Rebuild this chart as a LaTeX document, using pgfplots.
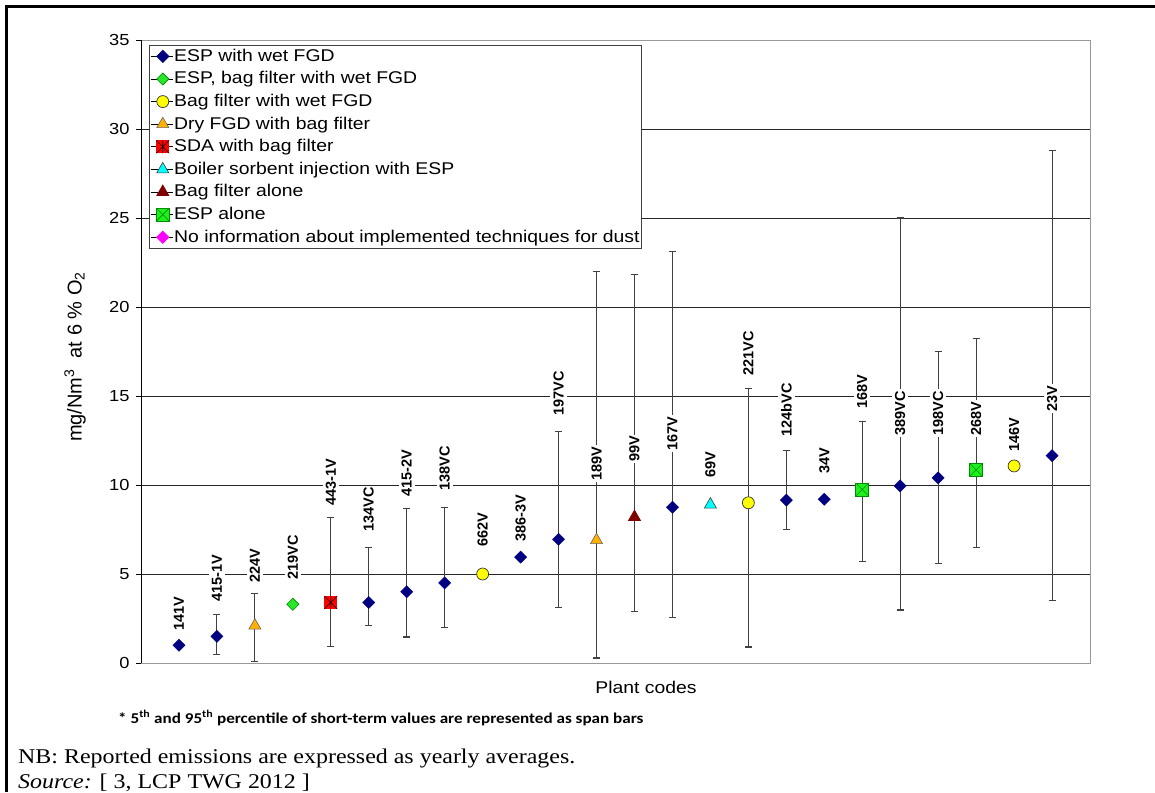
\documentclass[border=0pt]{standalone}
\usepackage{fontspec}
\setmainfont{Liberation Sans}[FakeStretch=1.14]
\newfontfamily\plainsans{Liberation Sans}
\newfontfamily\timesfont{Liberation Serif}[FakeStretch=1.14]
\newfontfamily\calibrifont{Carlito}[FakeStretch=1.14]
\usepackage{pgfplots}
\pgfplotsset{compat=1.18}
\usepackage{pgfplotstable}

\definecolor{navyc}{RGB}{0,0,128}
\definecolor{greenc}{RGB}{40,230,40}
\definecolor{greenedge}{RGB}{0,130,0}
\definecolor{yellowc}{RGB}{255,255,0}
\definecolor{orangec}{RGB}{255,176,0}
\definecolor{redc}{RGB}{255,0,0}
\definecolor{cyanc}{RGB}{0,255,255}
\definecolor{darkredc}{RGB}{128,0,0}
\definecolor{espalone}{RGB}{30,240,30}
\definecolor{magentac}{RGB}{255,0,255}

\pgfdeclareplotmark{sqx}{%
  \pgfpathrectangle{\pgfqpoint{-\pgfplotmarksize}{-\pgfplotmarksize}}{\pgfqpoint{2\pgfplotmarksize}{2\pgfplotmarksize}}%
  \pgfusepathqfillstroke
  \pgfpathmoveto{\pgfqpoint{-\pgfplotmarksize}{-\pgfplotmarksize}}%
  \pgfpathlineto{\pgfqpoint{\pgfplotmarksize}{\pgfplotmarksize}}%
  \pgfpathmoveto{\pgfqpoint{-\pgfplotmarksize}{\pgfplotmarksize}}%
  \pgfpathlineto{\pgfqpoint{\pgfplotmarksize}{-\pgfplotmarksize}}%
  \pgfusepathqstroke
}
\pgfdeclareplotmark{sqstar}{%
  \pgfpathrectangle{\pgfqpoint{-\pgfplotmarksize}{-\pgfplotmarksize}}{\pgfqpoint{2\pgfplotmarksize}{2\pgfplotmarksize}}%
  \pgfusepathqfill
  \pgfsetstrokecolor{black}%
  \pgfpathmoveto{\pgfqpoint{-\pgfplotmarksize}{-\pgfplotmarksize}}%
  \pgfpathlineto{\pgfqpoint{\pgfplotmarksize}{\pgfplotmarksize}}%
  \pgfpathmoveto{\pgfqpoint{-\pgfplotmarksize}{\pgfplotmarksize}}%
  \pgfpathlineto{\pgfqpoint{\pgfplotmarksize}{-\pgfplotmarksize}}%
  \pgfpathmoveto{\pgfqpoint{0pt}{-\pgfplotmarksize}}%
  \pgfpathlineto{\pgfqpoint{0pt}{\pgfplotmarksize}}%
  \pgfusepathqstroke
}

% error bars: x, y, lower, upper (5th and 95th percentile)
\pgfplotstableread{
x y lo hi
2 1.5 0.5 2.75
3 2.1 0.1 3.9
5 3.4 0.95 8.15
6 3.4 2.1 6.5
7 4.0 1.46 8.7
8 4.5 2.0 8.75
11 6.95 3.1 13.0
12 6.9 0.28 22.0
13 8.2 2.87 21.85
14 8.75 2.55 23.1
16 9.0 0.9 15.4
17 9.15 7.5 11.95
19 9.75 5.7 13.55
20 9.95 2.98 25.0
21 10.4 5.6 17.5
22 10.85 6.5 18.25
24 11.65 3.5 28.8
}\spanbars

\pgfplotstableread{
x y
1 1.0
2 1.5
6 3.4
7 4.0
8 4.5
10 5.95
11 6.95
14 8.75
17 9.15
18 9.2
20 9.95
21 10.4
24 11.65
}\espwet

\pgfplotstableread{
x y
4 3.3
}\espbagwet

\pgfplotstableread{
x y
9 5.0
16 9.0
23 11.07
}\bagwet

\pgfplotstableread{
x y
3 2.1
12 6.9
}\dryfgd

\pgfplotstableread{
x y
5 3.4
}\sda

\pgfplotstableread{
x y
15 8.9
}\boiler

\pgfplotstableread{
x y
13 8.2
}\bagalone

\pgfplotstableread{
x y
19 9.75
22 10.85
}\espalonet

\begin{document}
\begin{tikzpicture}
\useasboundingbox (0pt,-792pt) rectangle (1155pt,0pt);
\draw[line width=2.3pt] (6.5pt,-792pt) -- (6.5pt,-6.5pt) -- (1155pt,-6.5pt);
\begin{axis}[
  at={(141pt,-663pt)}, anchor=south west,
  scale only axis, width=949pt, height=623pt,
  xmin=0, xmax=25, ymin=0, ymax=35,
  xtick=\empty,
  ytick={0,5,...,35}, ytick pos=left,
  axis line style={black!40, line width=1pt},
  tick style={black, line width=0.8pt},
  tick align=outside, major tick length=5pt,
  yticklabel style={font=\fontsize{16}{18}\selectfont, black, xshift=-3pt},
  /pgf/number format/assume math mode=true,
  clip=false,
  legend cell align=left,
  legend style={at={(rel axis cs:0.0084,0.992)}, anchor=north west,
    draw=black!75, line width=0.8pt, inner sep=1pt, row sep=2.6pt,
    font=\fontsize{17}{20}\selectfont,
    nodes={inner sep=1pt, text height=14pt, text depth=4pt}},
  legend image code/.code={\path (0pt,0pt) -- (22pt,0pt); \draw[#1] plot coordinates {(12pt,0pt)};},
]
% gridlines
\pgfplotsinvokeforeach{5,10,...,30}{
  \draw[black!85, line width=0.8pt] (axis cs:0,#1) -- (axis cs:25,#1);
}
\draw[black, line width=1pt] (axis cs:0,0) -- (axis cs:0,35);

% span bars
\addplot[forget plot, only marks, mark=none,
  error bars/.cd, y dir=both, y explicit, error mark=|,
  error bar style={draw=black!75, line width=1.1pt},
  error mark options={draw=black!75, mark size=3.5pt, line width=1.1pt}]
  table[x=x, y=y, y error plus expr=\thisrow{hi}-\thisrow{y},
        y error minus expr=\thisrow{y}-\thisrow{lo}] {\spanbars};

\addplot[only marks, mark=square*, mark size=4.3pt,
  mark options={rotate=45, fill=navyc, draw=navyc}] table {\espwet};
\addlegendentry{ESP with wet FGD}
\addplot[only marks, mark=square*, mark size=4.3pt,
  mark options={rotate=45, fill=greenc, draw=greenedge, line width=0.6pt}] table {\espbagwet};
\addlegendentry{ESP, bag filter with wet FGD}
\addplot[only marks, mark=*, mark size=6pt,
  mark options={fill=yellowc, draw=black!80, line width=0.7pt}] table {\bagwet};
\addlegendentry{Bag filter with wet FGD}
\addplot[only marks, mark=triangle*, mark size=7pt,
  mark options={fill=orangec, draw=black!60, line width=0.6pt}] table {\dryfgd};
\addlegendentry{Dry FGD with bag filter}
\addplot[only marks, mark=sqstar, mark size=6.5pt,
  mark options={fill=redc, draw=black, line width=0.6pt}] table {\sda};
\addlegendentry{SDA with bag filter}
\addplot[only marks, mark=triangle*, mark size=7pt,
  mark options={fill=cyanc, draw=black!75, line width=0.6pt}] table {\boiler};
\addlegendentry{Boiler sorbent injection with ESP}
\addplot[only marks, mark=triangle*, mark size=7pt,
  mark options={fill=darkredc, draw=darkredc, line width=0.6pt}] table {\bagalone};
\addlegendentry{Bag filter alone}
\addplot[only marks, mark=sqx, mark size=6.5pt,
  mark options={fill=espalone, draw=black!45!green, line width=0.6pt}] table {\espalonet};
\addlegendentry{ESP alone}
\addlegendimage{only marks, mark=square*, mark size=4.3pt,
  mark options={rotate=45, fill=magentac, draw=magentac}}
\addlegendentry{No information about implemented techniques for dust}

% plant code labels
\tikzset{plab/.style={rotate=90, anchor=west, fill=white, inner xsep=1.5pt, inner ysep=3pt,
  font=\plainsans\bfseries\fontsize{14.5}{16}\selectfont}}
\node[plab] at (axis cs:1,1.74) {141V};
\node[plab] at (axis cs:2,3.37) {415-1V};
\node[plab] at (axis cs:3,4.44) {224V};
\node[plab] at (axis cs:4,4.6) {219VC};
\node[plab] at (axis cs:5,8.76) {443-1V};
\node[plab] at (axis cs:6,7.3) {134VC};
\node[plab] at (axis cs:7,9.27) {415-2V};
\node[plab] at (axis cs:8,9.6) {138VC};
\node[plab] at (axis cs:9,6.46) {662V};
\node[plab] at (axis cs:10,6.74) {386-3V};
\node[plab] at (axis cs:11,13.8) {197VC};
\node[plab] at (axis cs:12,10.17) {189V};
\node[plab] at (axis cs:13,11.2) {99V};
\node[plab] at (axis cs:14,11.85) {167V};
\node[plab] at (axis cs:15,10.3) {69V};
\node[plab] at (axis cs:16,16.07) {221VC};
\node[plab] at (axis cs:17,12.64) {124bVC};
\node[plab] at (axis cs:18,10.56) {34V};
\node[plab] at (axis cs:19,14.2) {168V};
\node[plab] at (axis cs:20,12.7) {389VC};
\node[plab] at (axis cs:21,12.7) {198VC};
\node[plab] at (axis cs:22,12.7) {268V};
\node[plab] at (axis cs:23,11.8) {146V};
\node[plab] at (axis cs:24,14.04) {23V};
\end{axis}
\node[rotate=90, font=\plainsans\fontsize{20}{22}\selectfont] at (75pt,-357pt)
  {mg/Nm\textsuperscript{3}\hspace{11pt}at 6 \% O\textsubscript{2}};
\node[font=\fontsize{17}{19}\selectfont] at (646pt,-687pt) {Plant codes};
\node[anchor=base west, inner sep=0pt, font=\calibrifont\bfseries\fontsize{15}{17}\selectfont]
  at (118pt,-723pt) {* 5\textsuperscript{th} and 95\textsuperscript{th} percentile of short-term values are represented as span bars};
\node[anchor=base west, inner sep=0pt, font=\timesfont\fontsize{21}{23}\selectfont]
  at (18pt,-763pt) {NB: Reported emissions are expressed as yearly averages.};
\node[anchor=base west, inner sep=0pt, font=\timesfont\fontsize{21}{23}\selectfont]
  at (18pt,-788pt) {\textit{Source:} [ 3, LCP TWG 2012 ]};
\end{tikzpicture}
\end{document}
